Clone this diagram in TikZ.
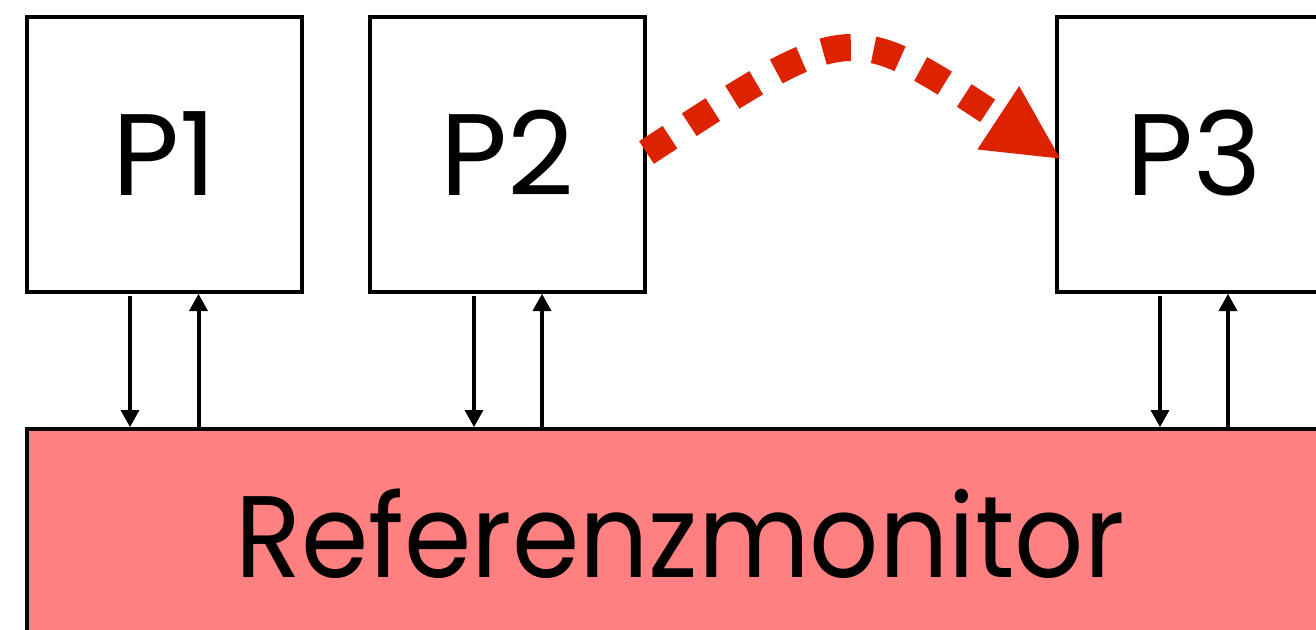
\documentclass[tikz,border=0pt]{standalone}
\usepackage{fontspec}
\setmainfont{Poppins}
\usetikzlibrary{arrows.meta}
\definecolor{rmfill}{HTML}{FF8080}
\definecolor{redarr}{HTML}{DD2200}
\tikzset{
  pbox/.style={draw, line width=4pt, minimum width=275pt, minimum height=275pt,
    inner sep=0pt, text height=81pt, text depth=0pt, font=\fontsize{116}{120}\selectfont},
  rmbox/.style={draw, fill=rmfill, line width=4pt, minimum width=1306pt, minimum height=216pt,
    inner sep=0pt, text height=81pt, text depth=0pt, font=\fontsize{116}{120}\selectfont},
  conn/.style={line width=4pt, -{Triangle[length=17pt,width=19pt,line width=0pt]}},
  dasharr/.style={redarr, line width=27pt, dash pattern=on 28pt off 23pt,
    -{Triangle[length=74pt,width=76pt,line width=0pt]}}
}
\begin{document}
\begin{tikzpicture}[x=1pt,y=-1pt]
\path[use as bounding box, clip] (0,0) rectangle (1316,629);
\fill[white] (0,0) rectangle (1316,629);
\node[pbox] (p1) at (164.5,154.5) {P1};
\node[pbox] (p2) at (507,154.5) {P2};
\node[pbox] (p3) at (1194.5,154.5) {P3};
\node[rmbox] (rm) at (680,537) {\scalebox{0.935}[1]{Referenzmonitor}};
% P1 connectors
\coordinate (p1d) at ([xshift=-34.5pt,yshift=-2pt]p1.south);
\coordinate (p1u) at ([xshift=34pt]p1.south);
\draw[conn] (p1d) -- (p1d |- rm.north);
\draw[conn] (p1u |- rm.north) -- (p1u);
% P2 connectors
\coordinate (p2d) at ([xshift=-33pt,yshift=-2pt]p2.south);
\coordinate (p2u) at ([xshift=35pt]p2.south);
\draw[conn] (p2d) -- (p2d |- rm.north);
\draw[conn] (p2u |- rm.north) -- (p2u);
% P3 connectors
\coordinate (p3d) at ([xshift=-34.5pt,yshift=-2pt]p3.south);
\coordinate (p3u) at ([xshift=33.5pt]p3.south);
\draw[conn] (p3d) -- (p3d |- rm.north);
\draw[conn] (p3u |- rm.north) -- (p3u);
% red dashed arrow
\coordinate (rs) at ([yshift=2pt]p2.east);
\coordinate (re) at ([xshift=5pt,yshift=-4pt]p3.west);
\draw[dasharr] (rs) .. controls (850,20) and (847,18) .. (re);
\end{tikzpicture}
\end{document}
